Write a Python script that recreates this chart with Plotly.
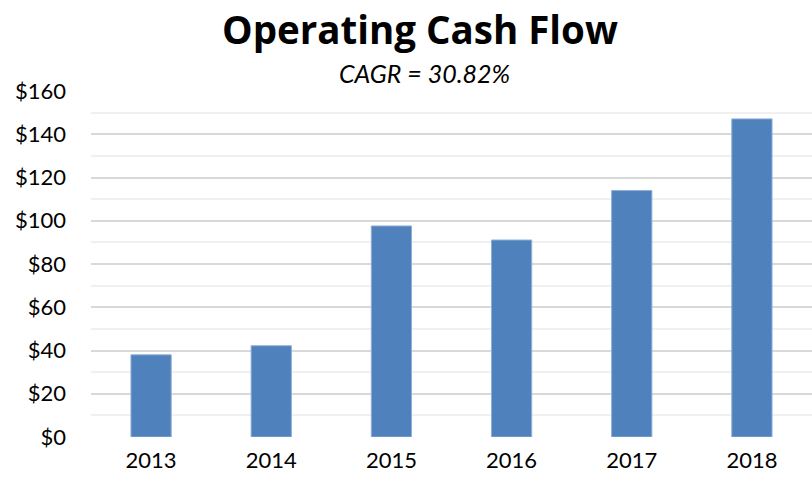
import plotly.graph_objects as go

years = ["2013", "2014", "2015", "2016", "2017", "2018"]
cash_flow = [38.0, 42.2, 97.6, 91.1, 114.0, 147.1]
y_ticks = [0, 20, 40, 60, 80, 100, 120, 140, 160]
y_tick_labels = ["$0", "$20", "$40", "$60", "$80", "$100", "$120", "$140", "$160"]

FONT = "Lato, Calibri, Carlito, sans-serif"
TITLE_FONT = "Open Sans, Calibri, sans-serif"

L, R, T, B = 91, 0, 91, 45
W, H = 812, 482
plot_w = W - L - R
plot_h = H - T - B


def px_to_paper(x, y):
    return (x - L) / plot_w, (H - B - y) / plot_h


fig = go.Figure(go.Bar(
    x=years, y=cash_flow,
    marker=dict(color="#4f81bd", line=dict(color="#8fb0d8", width=1)),
    hoverinfo="skip",
))

tx, ty = px_to_paper(420, 29)
sx, sy = px_to_paper(424, 73)

fig.update_layout(
    width=W, height=H,
    margin=dict(l=L, r=R, t=T, b=B),
    paper_bgcolor="white", plot_bgcolor="white",
    bargap=0.665,
    showlegend=False,
    annotations=[
        dict(text="<b>Operating Cash Flow</b>", x=tx, y=ty, xref="paper", yref="paper",
             xanchor="center", yanchor="middle", showarrow=False,
             font=dict(family=TITLE_FONT, size=38.5, color="black")),
        dict(text="<i>CAGR = 30.82%</i>", x=sx, y=sy, xref="paper", yref="paper",
             xanchor="center", yanchor="middle", showarrow=False,
             font=dict(family=FONT, size=25, color="black")),
    ],
)

fig.update_xaxes(
    showline=False, showgrid=False, ticks="",
    tickfont=dict(family=FONT, size=22, color="black"),
    ticklabelstandoff=8,
)
fig.update_yaxes(
    range=[0, 160],
    tickvals=y_ticks, ticktext=y_tick_labels,
    tickfont=dict(family=FONT, size=22, color="black"),
    gridcolor="#d9d9d9", gridwidth=1.6,
    zeroline=False, showline=False,
    ticklabelstandoff=24,
    minor=dict(dtick=10, tick0=0, showgrid=True, gridcolor="#f0f0f0", gridwidth=1.6, ticks=""),
)

fig.write_html("out.html")
